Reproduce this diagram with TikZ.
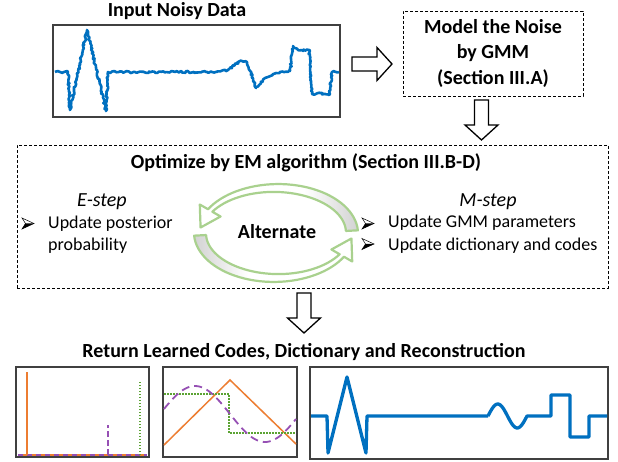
\documentclass[tikz,border=0pt]{standalone}
\usepackage{fontspec}
\setmainfont{Carlito}
\usetikzlibrary{decorations.pathmorphing}
\definecolor{sigblue}{HTML}{0070C0}
\definecolor{codeorange}{HTML}{ED7D31}
\definecolor{codegreen}{HTML}{5BA333}
\definecolor{codepurple}{HTML}{9650B4}
\definecolor{loopgreen}{HTML}{A9D18E}
\pgfdeclarehorizontalshading{tailgray}{100bp}{color(0bp)=(white); color(58bp)=(white); color(80bp)=(gray!45); color(100bp)=(gray!55)}
% one band of the alternation loop, #1 = angle offset, #2 = fill
\newcommand{\loopband}[2]{%
  \filldraw[loopband,#2]
    plot[domain=-3:-150,samples=40] ({\cx+(\ra+\bw/2)*cos(\x+#1)},{\cy+(\rb+\bw/2)*sin(\x+#1)})
    -- ({\cx+(\ra+12)*cos(-150+#1)},{\cy+(\rb+12)*sin(-150+#1)})
    -- ({\cx+\ra*cos(-173+#1)},{\cy+\rb*sin(-173+#1)})
    -- ({\cx+(\ra-12)*cos(-150+#1)},{\cy+(\rb-12)*sin(-150+#1)})
    -- plot[domain=-150:-3,samples=40] ({\cx+(\ra-\bw/2)*cos(\x+#1)},{\cy+(\rb-\bw/2)*sin(\x+#1)})
    -- cycle;}

\begin{document}
\begin{tikzpicture}[x=1pt,y=-1pt,
  every node/.style={inner sep=0pt},
  title/.style={font=\fontsize{20}{25.5}\selectfont\bfseries},
  body/.style={font=\fontsize{18}{22}\selectfont},
  stepname/.style={font=\fontsize{20}{24}\selectfont\itshape},
  dashbox/.style={draw,dash pattern=on 3pt off 2pt,line width=0.8pt},
  plotbox/.style={draw=black!75,line width=1.2pt},
  loopband/.style={draw=loopgreen,line width=2.2pt,line join=round},
  blockarrow/.pic={\draw[line width=1.3pt,fill=white,line join=miter]
    (0,-7) -- (25,-7) -- (25,-16.5) -- (40,0) -- (25,16.5) -- (25,7) -- (0,7) -- cycle;},
  bulletmark/.pic={\draw[line width=0.5pt,line join=miter] (0,-5.5) -- (12,0) -- (0,5.5) -- (3.5,0) -- cycle;
    \fill (3.5,0) -- (12,0) -- (0,5.5) -- cycle;}]
\path[fill=white] (0,0) rectangle (618,462);
\def\cx{276}
\def\cy{233}
\def\ra{76}
\def\rb{45}
\def\bw{(12-7*(\x+3)/(-147))}
% input
\node[title] (inTitle) at (177,11) {Input Noisy Data};
\node[plotbox,minimum width=287pt,minimum height=92pt] (noisy) at (196.5,71) {};
\pgfmathsetseed{12}
\draw[sigblue,line width=2.6pt,line join=round,decorate,
  decoration={random steps,segment length=1.6pt,amplitude=1pt}]
  (55,72) -- (68,72) -- (70,110) -- (87,30) -- (106,111) -- (108,72) -- (212,72)
  -- (228,70) -- (240,61) -- (247,62) -- (256,88) -- (263,80) -- (276,73) -- (290,71)
  -- (293,46) -- (298,50) -- (309,50) -- (312,94) -- (320,93) -- (329,95) -- (332,72) -- (339,72);
% noise model
\pic at (352,64) {blockarrow};
\node[dashbox,title,align=center,minimum width=180pt,minimum height=85pt] (gmm) at (493,53.5)
  {Model the Noise\\by GMM\\(Section III.A)};
\pic[rotate=-90] at (481.5,100) {blockarrow};
% EM
\node[dashbox,minimum width=591pt,minimum height=143pt] (em) at (312.5,216.5) {};
\node[title] (emTitle) at (306,163) {Optimize by EM algorithm (Section III.B-D)};
\node[stepname] (estep) at (102,202) {E-step};
\pic (eb) at (22,223.5) {bulletmark};
\node[body,anchor=mid west] (post1) at (48,226) {Update posterior};
\node[body,anchor=mid west] (post2) at (48,248) {probability};
\node[stepname] (mstep) at (488,202) {M-step};
\pic (mb1) at (362,223.5) {bulletmark};
\pic (mb2) at (362,244) {bulletmark};
\node[body,anchor=mid west] (mpar) at (388,225) {Update GMM parameters};
\node[body,anchor=mid west] (mdict) at (388,248) {Update dictionary and codes};
\loopband{0}{shading=tailgray}
\loopband{180}{shading=tailgray,shading angle=180}
\node[title] (alt) at (277,232) {Alternate};
% results
\pic[rotate=-90] at (304,293) {blockarrow};
\node[title] (retTitle) at (304,352) {Return Learned Codes, Dictionary and Reconstruction};
\node[plotbox,minimum width=133pt,minimum height=90pt] (codes) at (82.5,412) {};
\draw[codeorange,line width=1.2pt] (18,455) -- (147,455);
\draw[codepurple,line width=1.2pt,dash pattern=on 5pt off 4pt] (18,455) -- (147,455);
\draw[codeorange,line width=1.5pt] (27,455) -- (27,372);
\draw[codepurple,line width=1.5pt,dash pattern=on 6pt off 3pt] (108,455) -- (108,425);
\draw[codegreen,line width=1.5pt,dash pattern=on 1.5pt off 1.5pt] (140,455) -- (140,381);
\node[plotbox,minimum width=134pt,minimum height=90pt] (dict) at (230,412) {};
\draw[codeorange,line width=1.5pt] (164,445) -- (230,380) -- (296,444);
\draw[codegreen,line width=1.5pt,dash pattern=on 1.5pt off 1.5pt] (164,394) -- (229,394) -- (229,433) -- (296,433);
\draw[codepurple,line width=1.8pt,dash pattern=on 8pt off 5pt]
  plot[domain=164:296,samples=60] (\x,{414-28*sin(2.5714*(\x-160))});
\node[plotbox,minimum width=298pt,minimum height=92pt] (recon) at (459,413) {};
\draw[sigblue,line width=3.3pt,line join=round]
  (311,416) -- (327,416) -- (328,453) -- (347,377) -- (366,453) -- (367,416) -- (488,416)
  plot[domain=488:527,samples=30] (\x,{416-12*sin(9.2308*(\x-488))})
  -- (551,416) -- (551,395) -- (570,395) -- (570,437) -- (589,437) -- (589,416) -- (607,416);
\end{tikzpicture}
\end{document}
